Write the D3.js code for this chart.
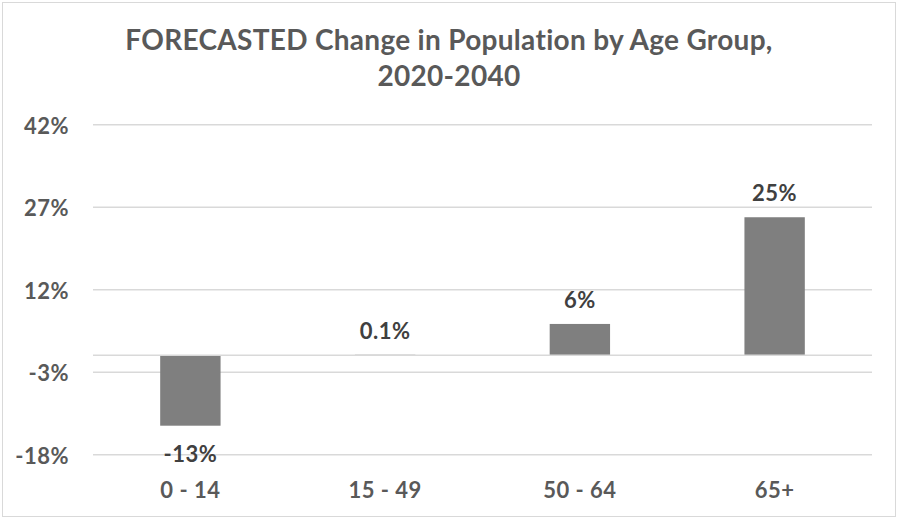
<!DOCTYPE html>
<html>
<head>
<meta charset="utf-8">
<script src="https://cdn.jsdelivr.net/npm/d3@7"></script>
<style>
  body { margin: 0; background: #fff; }
  svg { display: block; font-family: Lato, "Open Sans", sans-serif; }
</style>
</head>
<body>
<div id="chart"></div>
<script>
// chart data
const categories = ["0 - 14", "15 - 49", "50 - 64", "65+"];
const values = [-12.8, 0.1, 5.7, 25.1];
const valueLabels = ["-13%", "0.1%", "6%", "25%"];
const tickValues = [-18, -3, 12, 27, 42];
const titleLines = ["FORECASTED Change in Population by Age Group,", "2020-2040"];

const width = 898;
const height = 519;
const plot = { left: 93, right: 872, top: 124.3, bottom: 454.3 };

const svg = d3.select("#chart")
    .append("svg")
    .attr("width", width)
    .attr("height", height);

// outer border
svg.append("rect")
    .attr("x", 2.5).attr("y", 2.5)
    .attr("width", width - 5).attr("height", height - 5)
    .attr("fill", "#fff")
    .attr("stroke", "#d9d9d9")
    .attr("stroke-width", 1);

// title
svg.selectAll("text.title")
    .data(titleLines)
    .enter()
    .append("text")
    .attr("class", "title")
    .attr("x", width / 2)
    .attr("y", (d, i) => 50 + i * 36)
    .attr("text-anchor", "middle")
    .attr("fill", "#595959")
    .style("font-size", "28px")
    .style("font-weight", "bold")
    .style("letter-spacing", "0.3px")
    .text(d => d);

const x = d3.scaleBand()
    .domain(categories)
    .range([plot.left, plot.right])
    .padding(0);

const y = d3.scaleLinear()
    .domain([d3.min(tickValues), d3.max(tickValues)])
    .range([plot.bottom, plot.top]);

const barWidth = x.bandwidth() * 0.31;

// gridlines + y tick labels
const yAxis = d3.axisLeft(y)
    .tickValues(tickValues)
    .tickSize(-(plot.right - plot.left))
    .tickPadding(24)
    .tickFormat(d => d + "%");

const gy = svg.append("g")
    .attr("transform", `translate(${plot.left},0)`)
    .call(yAxis);
gy.select(".domain").remove();
gy.selectAll(".tick line").attr("stroke", "#d9d9d9").attr("stroke-width", 1.5);
gy.selectAll(".tick text")
    .attr("fill", "#595959")
    .attr("dy", "0.4em")
    .style("font-size", "22px")
    .style("font-weight", "bold")
    .style("letter-spacing", "0.5px")
    .style("font-family", "Lato, sans-serif");

// bars
svg.selectAll("rect.bar")
    .data(values)
    .enter()
    .append("rect")
    .attr("class", "bar")
    .attr("x", (d, i) => x(categories[i]) + (x.bandwidth() - barWidth) / 2)
    .attr("y", d => y(Math.max(0, d)))
    .attr("width", barWidth)
    .attr("height", d => Math.abs(y(d) - y(0)))
    .attr("fill", "#7f7f7f");

// zero line on top of bars
svg.append("line")
    .attr("x1", plot.left).attr("x2", plot.right)
    .attr("y1", y(0)).attr("y2", y(0))
    .attr("stroke", "#d9d9d9")
    .attr("stroke-width", 1.5);

// value labels
svg.selectAll("text.val")
    .data(values)
    .enter()
    .append("text")
    .attr("class", "val")
    .attr("x", (d, i) => x(categories[i]) + x.bandwidth() / 2)
    .attr("y", d => d >= 0 ? y(d) - 16 : y(d) + 36)
    .attr("text-anchor", "middle")
    .attr("fill", "#404040")
    .style("font-size", "22px")
    .style("font-weight", "bold")
    .style("letter-spacing", "0.5px")
    .text((d, i) => valueLabels[i]);

// category labels
svg.selectAll("text.cat")
    .data(categories)
    .enter()
    .append("text")
    .attr("class", "cat")
    .attr("x", d => x(d) + x.bandwidth() / 2)
    .attr("y", 498)
    .attr("text-anchor", "middle")
    .attr("fill", "#595959")
    .style("font-size", "22px")
    .style("font-weight", "bold")
    .style("letter-spacing", "0.5px")
    .text(d => d);
</script>
</body>
</html>
